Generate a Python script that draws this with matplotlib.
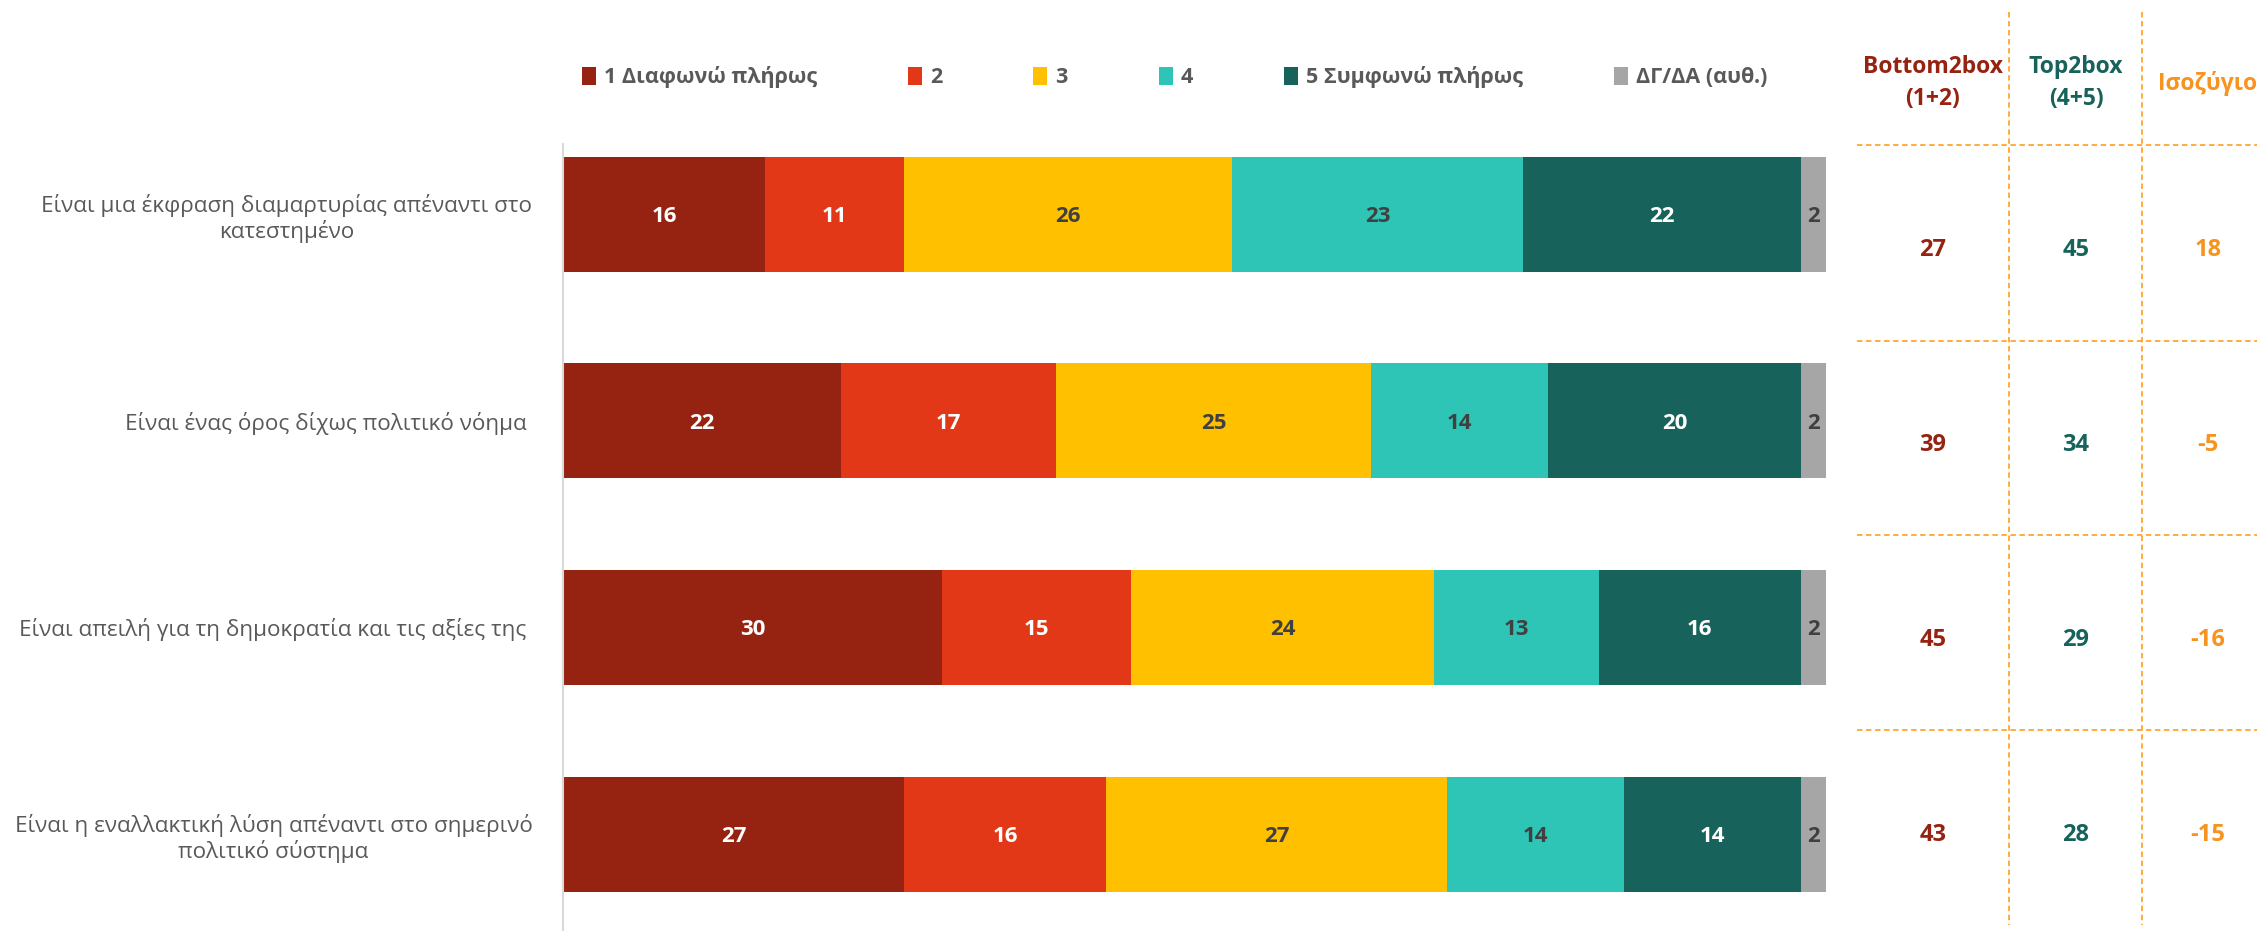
import matplotlib
matplotlib.use("Agg")
import matplotlib.pyplot as plt
from matplotlib.patches import Patch
import numpy as np

plt.rcParams['font.family'] = ['Open Sans', 'DejaVu Sans']

# ---------------- data ----------------
categories = [
    "Είναι μια έκφραση διαμαρτυρίας απέναντι στο\nκατεστημένο",
    "Είναι ένας όρος δίχως πολιτικό νόημα ",
    "Είναι απειλή για τη δημοκρατία και τις αξίες της ",
    "Είναι η εναλλακτική λύση απέναντι στο σημερινό\nπολιτικό σύστημα",
]
series_names = ["1 Διαφωνώ πλήρως", "2", "3", "4", "5 Συμφωνώ πλήρως", "ΔΓ/ΔΑ (αυθ.)"]
s1 = [16, 22, 30, 27]
s2 = [11, 17, 15, 16]
s3 = [26, 25, 24, 27]
s4 = [23, 14, 13, 14]
s5 = [22, 20, 16, 14]
s_dk = [2, 2, 2, 2]

table_headers = ["Bottom2box\n(1+2)", "Top2box\n(4+5)", "Ισοζύγιο"]
bottom2box = [27, 39, 45, 43]
top2box = [45, 34, 29, 28]
balance = [18, -5, -16, -15]

# ---------------- style ----------------
colors = ["#962312", "#E23817", "#FFC000", "#2EC4B6", "#17625A", "#A6A6A6"]
label_colors = ["white", "white", "#404040", "#404040", "white", "#404040"]
col_colors = ["#962312", "#17625A", "#F7931E"]
line_orange = "#FFA630"
text_grey = "#595959"

W, H = 2257, 931
fig = plt.figure(figsize=(W / 100, H / 100), dpi=100)

ax_top_px = 144
ax = fig.add_axes([563 / W, 0, 1263 / W, (H - ax_top_px) / H])

series = [s1, s2, s3, s4, s5, s_dk]
y = np.arange(len(categories))
left = np.zeros(len(categories))
for vals, c, lc in zip(series, colors, label_colors):
    vals = np.array(vals, dtype=float)
    ax.barh(y, vals, left=left, height=0.556, color=c, edgecolor='none')
    for yi, v, l in zip(y, vals, left):
        ax.text(l + v / 2, yi, f"{int(v)}", ha='center', va='center_baseline',
                color=lc, fontsize=16, fontweight='bold')
    left += vals

ax.set_xlim(0, 100)
ax.set_ylim(3.469, -0.339)
for sp in ['top', 'right', 'bottom']:
    ax.spines[sp].set_visible(False)
ax.spines['left'].set_color('#D9D9D9')
ax.spines['left'].set_linewidth(1.5)
ax.set_xticks([])
ax.set_yticks(y)
ax.set_yticklabels(categories, fontsize=16.2, color=text_grey, multialignment='center')
ax.tick_params(axis='y', length=0, pad=22)

# legend
handles = [Patch(facecolor=c, edgecolor='none') for c in colors]
leg = fig.legend(handles, series_names, loc='center left',
                 bbox_to_anchor=(582 / W, 1 - 77 / H), ncol=6, frameon=False,
                 handlelength=0.65, handleheight=0.9, handletextpad=0.35,
                 columnspacing=4.25, borderaxespad=0, borderpad=0,
                 prop={'weight': 'bold', 'size': 15.5})
for t in leg.get_texts():
    t.set_color(text_grey)

# table overlay
ov = fig.add_axes([0, 0, 1, 1])
ov.set_xlim(0, W)
ov.set_ylim(H, 0)
ov.axis('off')
ov.patch.set_alpha(0)

for yy in [145, 341, 535, 730]:
    ov.plot([1857, W], [yy, yy], color=line_orange, lw=1.3, ls=(0, (3, 2)))
for xx in [2009, 2142]:
    ov.plot([xx, xx], [12, 925], color=line_orange, lw=1.3, ls=(0, (3, 2)))

col_x = [1933, 2076, 2208]
row_y = [247, 442, 637, 832]
for cx, hdr, cc in zip(col_x, table_headers, col_colors):
    ov.text(cx, 83, hdr, ha='center', va='center', color=cc, fontsize=16.5,
            fontweight='bold', linespacing=1.4)
for cx, vals, cc in zip(col_x, [bottom2box, top2box, balance], col_colors):
    for ry, v in zip(row_y, vals):
        ov.text(cx, ry, f"{v}", ha='center', va='center_baseline', color=cc,
                fontsize=17, fontweight='bold')

fig.savefig("out.png", dpi=100)
